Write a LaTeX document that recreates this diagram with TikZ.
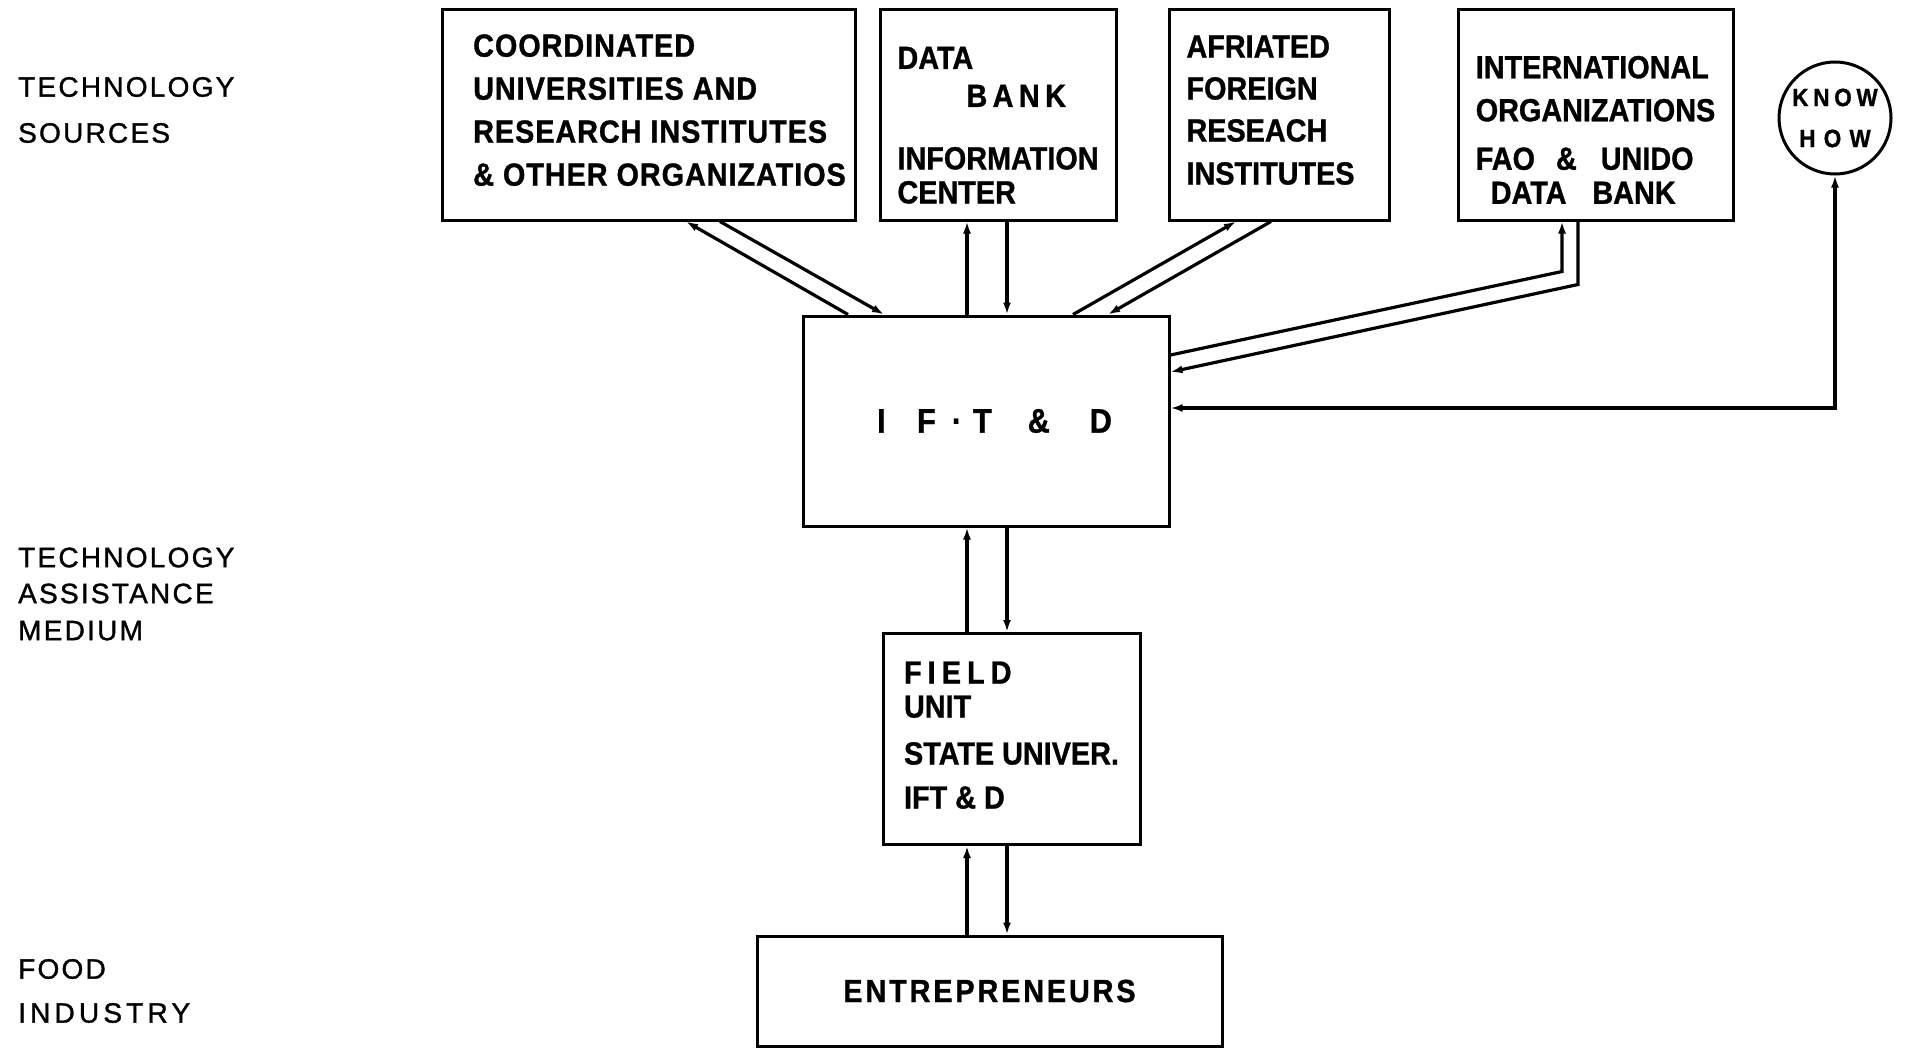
\documentclass[tikz,border=0pt]{standalone}
\usepackage{fontspec}
\setmainfont{Liberation Sans}
\newfontfamily\boxfont[FakeStretch=0.9,FakeBold=1]{Liberation Sans}
\newfontfamily\sidefont[LetterSpace=8,FakeBold=1.2]{Liberation Sans}
\usetikzlibrary{arrows.meta}

\begin{document}
\begin{tikzpicture}[x=1pt, y=-1pt,
>={Latex[length=12pt,width=8pt]},
srcbox/.style={rectangle, draw, line width=3pt, inner sep=0pt, align=left, font=\boxfont\bfseries\fontsize{32}{43}\selectfont},
knowbox/.style={circle, draw, line width=3pt, inner sep=0pt, minimum size=112pt, align=center, font=\boxfont\bfseries\fontsize{25}{41}\selectfont},
sidelabel/.style={anchor=west, align=left, inner sep=0pt, font=\sidefont\fontsize{28}{46}\selectfont},
flow/.style={line width=3.2pt, ->},
]
\useasboundingbox (0,0) rectangle (1914,1049);

%Nodes
\node[srcbox, minimum width=413pt, minimum height=210pt, font=\boxfont\bfseries\fontsize{32}{43}\selectfont\addfontfeatures{LetterSpace=3}] (coord) at (648.5,115) {\hspace*{22pt}COORDINATED\\\hspace*{22pt}UNIVERSITIES AND\\\hspace*{22pt}RESEARCH INSTITUTES\\\hspace*{22pt}\& OTHER ORGANIZATIOS\rule[-10pt]{0pt}{10pt}};

\node[srcbox, minimum width=236pt, minimum height=210pt] (databank) at (998,115) {\rule{0pt}{42.5pt}DATA\\[-5pt]\hspace*{69pt}{\addfontfeatures{LetterSpace=17}BANK}\\[19.5pt]INFORMATION\\[-9pt]CENTER};

\node[srcbox, minimum width=220pt, minimum height=210pt] (afriated) at (1279,115) {AFRIATED\\[-1pt]FOREIGN\\[-1pt]RESEACH\\INSTITUTES\hspace*{17pt}\rule[-10pt]{0pt}{10pt}};

\node[srcbox, minimum width=275pt, minimum height=210pt] (intl) at (1595.5,115) {\rule{0pt}{52pt}INTERNATIONAL\\ORGANIZATIONS\\[5.5pt]FAO\hspace{21pt}\&\hspace{24pt}UNIDO\\[-9pt]\hspace*{15pt}DATA\hspace{26pt}BANK};

\node[knowbox] (know) at (1835,118) {{\addfontfeatures{LetterSpace=19}KNOW}\\{\addfontfeatures{LetterSpace=33}HOW}};

\node[srcbox, minimum width=366pt, minimum height=210pt, font=\boxfont\bfseries\fontsize{34}{40}\selectfont] (iftd) at (986,421) {\hspace*{17pt}I\hspace{31.5pt}F\hspace{16pt}·\hspace{11pt}T\hspace{36pt}\&\hspace{40pt}D};

\node[srcbox, minimum width=257pt, minimum height=211pt, font=\boxfont\bfseries\fontsize{32}{40}\selectfont] (field) at (1011.5,739) {{\addfontfeatures{LetterSpace=19}FIELD}\\[-6pt]UNIT\\[7pt]STATE UNIVER.\\[4pt]IFT \& D\rule[-8pt]{0pt}{8pt}};

\node[srcbox, minimum width=465pt, minimum height=110pt] (entre) at (989.5,991) {\addfontfeatures{LetterSpace=9}ENTREPRENEURS};

\node[sidelabel] (srclabel) at (18,110) {TECHNOLOGY\\SOURCES};
\node[sidelabel] (medlabel) at (18,594) {TECHNOLOGY\\[-10pt]ASSISTANCE\\[-9pt]MEDIUM};
\node[sidelabel] (indlabel) at (18,991) {FOOD\\[-2pt]{\addfontfeatures{LetterSpace=15}INDUSTRY}};

%Lines
\draw[flow] ([xshift=-138pt]iftd.north) -- ([xshift=37.5pt]coord.south);
\draw[flow] ([xshift=71.5pt]coord.south) -- ([xshift=-102pt]iftd.north);
\draw[flow] ([xshift=-19pt]iftd.north) -- ([xshift=-31pt]databank.south);
\draw[flow] ([xshift=9pt]databank.south) -- ([xshift=21pt]iftd.north);
\draw[flow] ([xshift=87pt]iftd.north) -- ([xshift=-43pt]afriated.south);
\draw[flow] ([xshift=-8pt]afriated.south) -- ([xshift=122pt]iftd.north);
\draw[flow] ([yshift=66pt]iftd.east) -- ([xshift=-33.5pt,yshift=-50pt]intl.south) -- ([xshift=-33.5pt]intl.south);
\draw[flow] ([xshift=-17.5pt]intl.south) -- ([xshift=-17.5pt,yshift=-63pt]intl.south) -- ([yshift=49pt]iftd.east);
\draw[flow, <->] (know.south) |- ([yshift=13pt]iftd.east);

\draw[flow] ([xshift=-44.5pt]field.north) -- ([xshift=-19pt]iftd.south);
\draw[flow] ([xshift=21pt]iftd.south) -- ([xshift=-4.5pt]field.north);
\draw[flow] ([xshift=-22.5pt]entre.north) -- ([xshift=-44.5pt]field.south);
\draw[flow] ([xshift=-4.5pt]field.south) -- ([xshift=17.5pt]entre.north);

\end{tikzpicture}
\end{document}
